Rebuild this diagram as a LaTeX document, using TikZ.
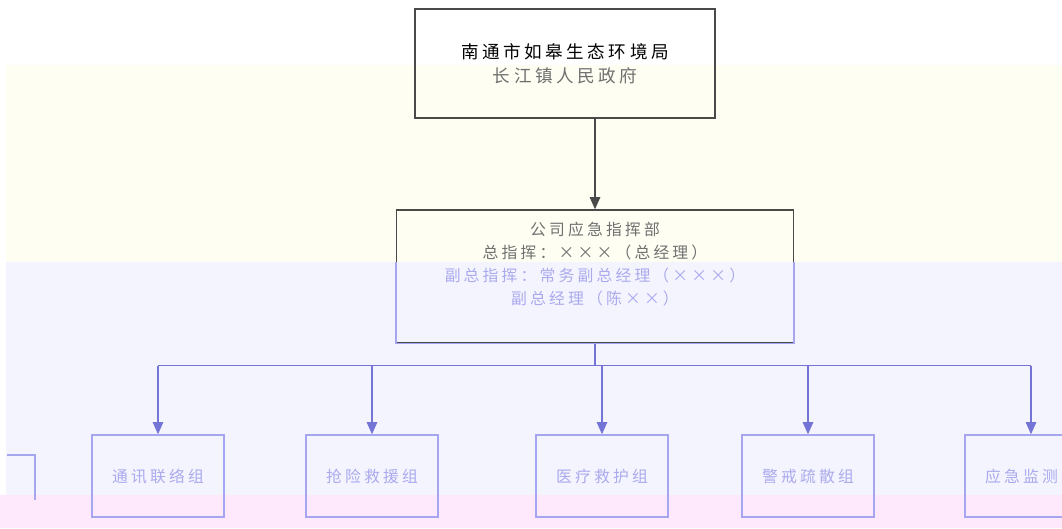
\documentclass[tikz,border=0pt]{standalone}
\usepackage{fontspec}
\usepackage{xcolor}
\usetikzlibrary{arrows.meta}
\newfontfamily\cjk[LetterSpace=20]{Noto Sans CJK SC}
\definecolor{bandYellow}{HTML}{FEFEF3}
\definecolor{bandLilac}{HTML}{F4F4FE}
\definecolor{bandPink}{HTML}{FDE8FC}
\definecolor{lineGray}{HTML}{4A4A4A}
\definecolor{textGray}{HTML}{707070}
\definecolor{lineBlue}{HTML}{A6A6F0}
\definecolor{arrowBlue}{HTML}{7474D6}
\definecolor{textLilac}{HTML}{AAAAEE}

\tikzset{
  groupbox/.style={draw=lineBlue, thick, minimum width=2.64cm, minimum height=1.64cm,
    inner sep=0pt, font=\cjk\fontsize{9}{13}\selectfont, text=textLilac},
  link/.style={draw=arrowBlue, thick, -{Triangle[length=7pt,width=6pt]}},
}

\begin{document}
\begin{tikzpicture}[x=0.02cm, y=-0.02cm]
  % Background bands
  \useasboundingbox (0,0) rectangle (1062,528);
  \fill[white] (0,0) rectangle (1062,528);
  \fill[bandYellow] (6,65) rectangle (1062,262);
  \fill[bandLilac] (6,262) rectangle (1062,495);
  \fill[bandPink] (0,495) rectangle (1062,528);

  % Top box
  \node[draw=lineGray, thick, minimum width=6cm, minimum height=2.18cm, align=center,
    font=\cjk\fontsize{10}{13.6}\selectfont] (bureau) at (565,63.5)
    {南通市如皋生态环境局\\{\color{textGray}长江镇人民政府}};

  % Command box
  \node[draw=lineGray, thick, minimum width=7.94cm, minimum height=2.66cm] (cmd) at (595,276.5) {};
  \begin{scope}
    \clip (0,262) rectangle (1062,528);
    \draw[lineBlue, thick] (cmd.north west) rectangle (cmd.south east);
  \end{scope}
  \node[below=4pt, align=center, font=\cjk\fontsize{9}{13}\selectfont, text=textGray] (cmdtext) at (cmd.north)
    {公司应急指挥部\\总指挥：×××（总经理）\\
     {\color{textLilac}副总指挥：常务副总经理（×××）}\\
     {\color{textLilac}副总经理（陈××）}};
  \draw[lineGray, thick, -{Triangle[length=7pt,width=6pt]}] (bureau.south -| cmd) -- (cmd.north);

  % Groups
  \node[groupbox] (g1) at (158,476) {通讯联络组};
  \node[groupbox] (g2) at (372,476) {抢险救援组};
  \node[groupbox] (g3) at (602,476) {医疗救护组};
  \node[groupbox] (g4) at (808,476) {警戒疏散组};
  \node[groupbox] (g5) at (1031,476) {应急监测组};
  \draw[lineBlue, thick] (7,455) -- (35,455) -- (35,500);

  % Bus and arrows
  \draw[arrowBlue, thick] (cmd.south) -- ++(0,22) coordinate (bus);
  \draw[arrowBlue, thick] (bus -| g1) -- (bus -| g5);
  \foreach \g in {g1,g2,g3,g4,g5}
    \draw[link] (bus -| \g) -- (\g.north);
\end{tikzpicture}
\end{document}
